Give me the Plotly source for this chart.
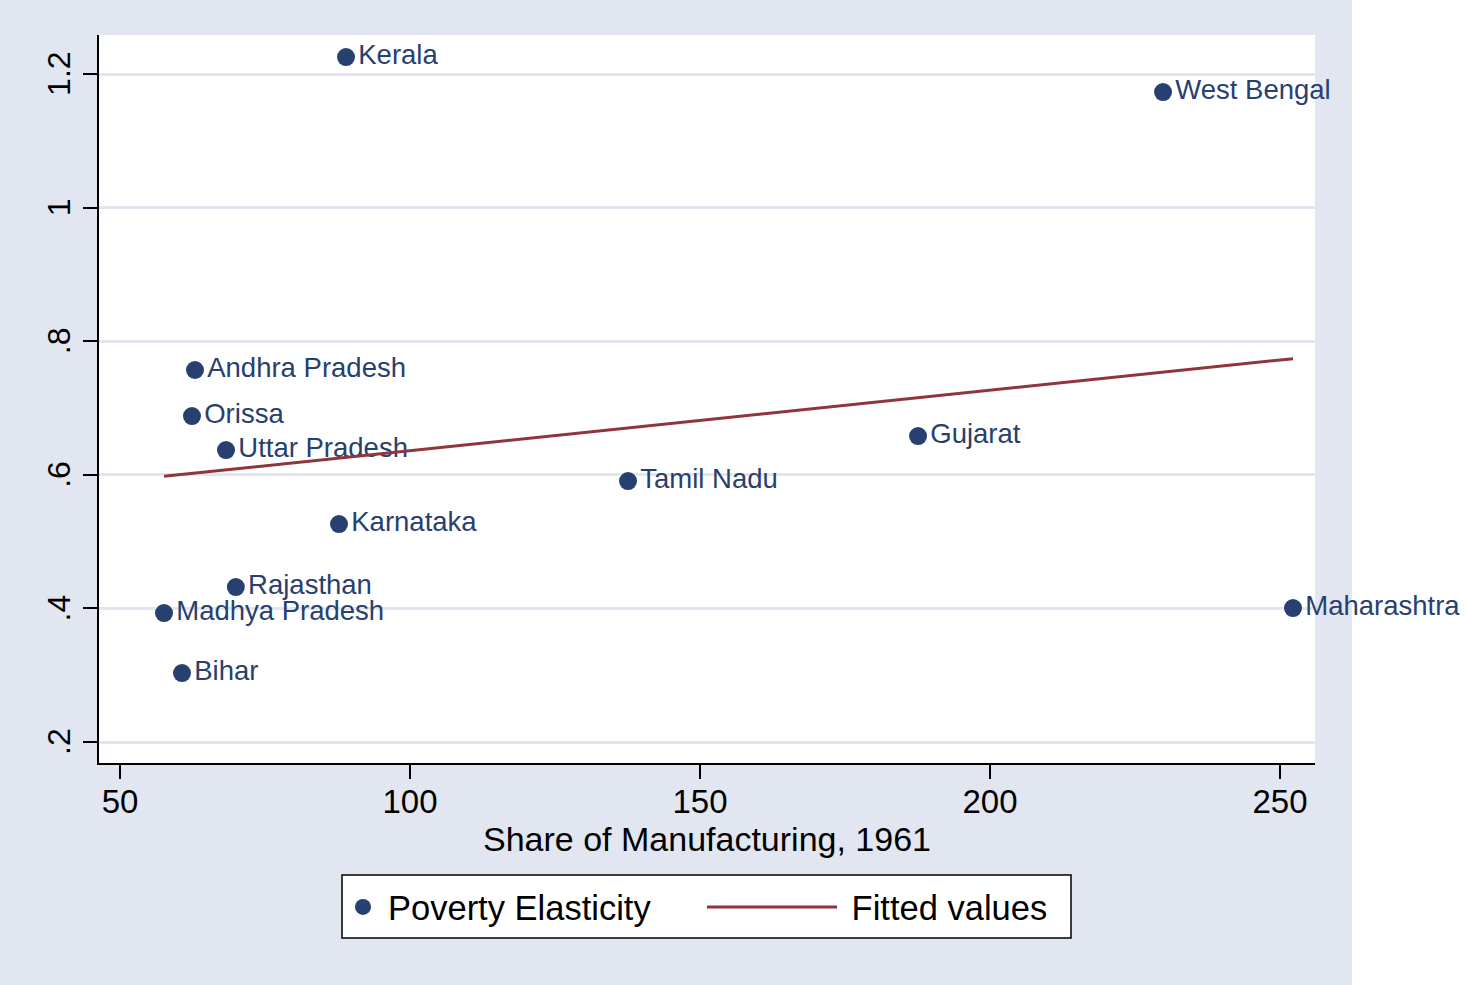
import numpy as np
import plotly.graph_objects as go

states = ["Kerala", "West Bengal", "Andhra Pradesh", "Orissa", "Uttar Pradesh",
          "Gujarat", "Tamil Nadu", "Karnataka", "Rajasthan", "Madhya Pradesh",
          "Bihar", "Maharashtra"]
manuf_share = [88.97, 229.83, 62.93, 62.41, 68.28, 187.59, 137.59, 87.76, 69.97,
               57.59, 60.69, 252.24]
pov_elast = [1.2254, 1.173, 0.7569, 0.688, 0.637, 0.658, 0.5907, 0.5263, 0.432,
             0.393, 0.3033, 0.4006]

y_tickvals = [0.2, 0.4, 0.6, 0.8, 1.0, 1.2]
y_ticktext = [".2", ".4", ".6", ".8", "1", "1.2"]
x_tickvals = [50, 100, 150, 200, 250]

NAVY = "#27406F"
MAROON = "#90353B"
BG = "#E1E6F0"
FONT = "Liberation Sans, Arial, sans-serif"

x = np.array(manuf_share)
y = np.array(pov_elast)
slope, intercept = np.polyfit(x, y, 1)
xs = np.sort(x)
fit = slope * xs + intercept

W, H = 1465, 985
L, R, T, B = 99, 1315, 35, 763


def px_x(p):
    return (p - L) / (R - L)


def px_y(p):
    return (B - p) / (B - T)


fig = go.Figure()
fig.add_trace(go.Scatter(
    x=manuf_share, y=pov_elast, mode="markers+text", text=states,
    textposition="middle right",
    textfont=dict(family=FONT, size=27.5, color=NAVY),
    marker=dict(size=18, color=NAVY),
    name="Poverty Elasticity", cliponaxis=False, legend="legend",
))
fig.add_trace(go.Scatter(
    x=xs, y=fit, mode="lines", line=dict(color=MAROON, width=3),
    name="\u00a0Fitted values", legend="legend2",
))

leg_common = dict(
    orientation="h", yanchor="middle", y=px_y(907), xanchor="left",
    bgcolor="rgba(0,0,0,0)", borderwidth=0,
    font=dict(family=FONT, size=34.5, color="black"),
)

fig.update_layout(
    width=W, height=H,
    margin=dict(l=L, r=W - R, t=T, b=H - B, pad=0),
    paper_bgcolor=BG, plot_bgcolor="white",
    font=dict(family=FONT, color="black"),
    showlegend=True,
    legend=dict(x=px_x(338), itemwidth=40, **leg_common),
    legend2=dict(x=px_x(702), itemwidth=130, **leg_common),
    shapes=[
        dict(type="rect", xref="paper", yref="paper",
             x0=px_x(1352), x1=px_x(W + 5), y0=px_y(H + 5), y1=px_y(-5),
             fillcolor="white", line=dict(width=0), layer="below"),
        dict(type="rect", xref="paper", yref="paper",
             x0=px_x(342), x1=px_x(1071), y0=px_y(938), y1=px_y(875),
             fillcolor="white", line=dict(width=1.5, color="black"), layer="below"),
    ],
)
fig.update_xaxes(
    range=[46.38, 256.03], tickvals=x_tickvals,
    showline=True, linecolor="black", linewidth=2,
    ticks="outside", ticklen=14, tickwidth=2, tickcolor="black",
    showgrid=False, zeroline=False, ticklabelstandoff=-6,
    tickfont=dict(family=FONT, size=33, color="black"),
    title=dict(text="Share of Manufacturing, 1961",
               font=dict(family=FONT, size=34, color="black"), standoff=0),
)
fig.update_yaxes(
    range=[0.1686, 1.2584], tickvals=y_tickvals,
    ticktext=[t + "\u00a0" for t in y_ticktext],
    tickangle=-90,
    showline=True, linecolor="black", linewidth=2,
    ticks="outside", ticklen=14, tickwidth=2, tickcolor="black",
    showgrid=True, gridcolor=BG, gridwidth=3, zeroline=False,
    tickfont=dict(family=FONT, size=32, color="black"),
)

fig.write_html("out.html")
